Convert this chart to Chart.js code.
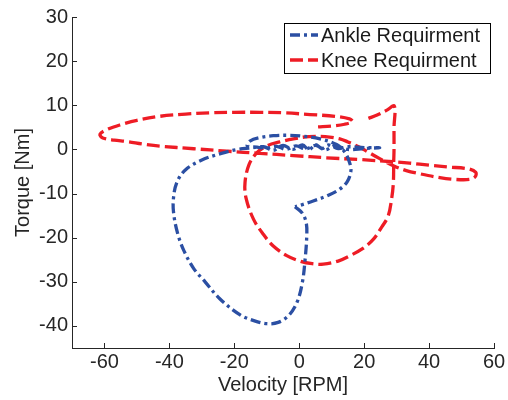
<!DOCTYPE html>
<html>
<head>
<meta charset="utf-8">
<script src="https://cdn.jsdelivr.net/npm/chart.js@4.4.1/dist/chart.umd.min.js"></script>
<style>
  html, body { margin: 0; padding: 0; background: #ffffff; }
  #wrap { width: 508px; height: 400px; }
</style>
</head>
<body>
<div id="wrap"><canvas id="c" width="508" height="400"></canvas></div>
<script>
// ---- data ----
const seriesNames = ['Ankle Requirment', 'Knee Requirment'];

const ankleVelocity = [-1.3, 1.0, 2.2, 2.3, 1.8, 1.0, -0.6, -3.2, -6.5, -10, -14, -18.2, -24.4, -29, -32.5, -35.5, -37.4, -38.6, -38.8, -37.7, -35, -30, -24, -19,
  -15, -11, -8, -5, -2, 1, 3, 5, 7, 9, 12, 15, 20, 24.8,
  20, 15, 11, 8, 5, 2, -1, -4, -7, -10, -13, -16,
  -15.2, -12, -8, -3, 1, 6.4, 11.5, 14.1, 15.6, 15.9, 14.8, 12.5, 9, 4.3, 1.0, -1.3];
const ankleTorque = [-13.0, -14.5, -16.8, -20, -25, -30, -34.5, -37.6, -39.2, -39.5, -38.8, -37.5, -33.9, -30, -27, -23, -19.2, -15, -11.5, -7.5, -4.6, -2.4, -0.9, 0.0,
  0.3, 0.6, -0.2, 0.9, 0.0, 1.0, -0.1, 1.1, 0.2, 1.0, 0.2, 0.6, 0.4, 0.4,
  0.2, 0.0, 0.8, -0.1, 0.9, 0.1, 0.8, 0.0, 0.7, 0.3, 0.5, 0.8,
  1.9, 2.7, 3.1, 3.2, 3.0, 2.4, 1.1, -0.7, -3.2, -5.0, -7.3, -9.0, -10.4, -11.7, -12.5, -13.0];

const kneeVelocity = [5.8, 10, 14, 16.4, 15.5, 11, 3.3, -5, -12.1, -20, -27.5, -35, -42.9, -50, -55, -59.5, -61.4, -60.5, -57, -53.1, -48, -42.9,
  -32.5, -22.3, -12.1, -1.8, 8.4, 18.6, 29, 34, 40.2, 46, 52, 54.4, 54.2, 52.5, 48, 43.3, 37, 33, 29, 24.8, 21, 18.6, 15, 12.5, 8, 3, -1.8, -6, -10,
  -13.1, -15.5, -16.7, -16.4, -14.1, -11, -8, -4, 0.2, 4, 7.4, 12, 15.6, 19.5, 22.8, 25.5, 27.4, 28.5, 29, 29.1, 29.2, 29.2, 29.3, 27, 24, 21.2];
const kneeTorque = [5.1, 5.3, 5.7, 6.3, 6.9, 7.5, 7.9, 8.3, 8.4, 8.4, 8.3, 8.0, 7.5, 6.6, 5.6, 4.4, 3.4, 2.6, 2.1, 1.8, 1.2, 0.75,
  0.15, -0.4, -0.9, -1.4, -1.9, -2.3, -2.8, -3.1, -3.6, -4.0, -4.4, -5.2, -6.2, -6.8, -6.8, -6.4, -5.5, -4.8, -3.7, -2.1, -0.5, 0.5, 1.7, 2.4, 2.9, 2.9, 2.4, 1.7, 0.8,
  -0.8, -3.5, -7.5, -11, -15.8, -19.3, -21.9, -24, -25.3, -25.9, -26, -25.3, -24.1, -22.5, -20.4, -17.5, -15.1, -11, -7.5, -3, 0, 5, 9.8, 8.9, 7.8, 7.0];

const xTickValues = [-60, -40, -20, 0, 20, 40, 60];
const yTickValues = [-40, -30, -20, -10, 0, 10, 20, 30];
const xRange = [-70, 60];
const yRange = [-45, 30];
const xTitle = 'Velocity [RPM]';
const yTitle = 'Torque [Nm]';

// ---- build ----
const toPoints = (xs, ys) => xs.map((x, i) => ({x: x, y: ys[i]}));
const FONT = "'Liberation Sans', Arial, Helvetica, sans-serif";
const AXIS = '#262626';
const BLUE = '#2b4fa3';
const RED = '#ee1c25';

const inwardTicks = {
  id: 'inwardTicks',
  afterDraw(chart) {
    const ctx = chart.ctx;
    const xs = chart.scales.x, ys = chart.scales.y;
    ctx.save();
    ctx.strokeStyle = AXIS;
    ctx.lineWidth = 1;
    ctx.beginPath();
    xTickValues.forEach(v => {
      const px = Math.round(xs.getPixelForValue(v)) + 0.5;
      ctx.moveTo(px, xs.top); ctx.lineTo(px, xs.top - 5);
    });
    yTickValues.forEach(v => {
      const py = Math.round(ys.getPixelForValue(v)) + 0.5;
      ctx.moveTo(ys.right, py); ctx.lineTo(ys.right + 5, py);
    });
    ctx.stroke();
    ctx.restore();
  }
};

const boxLegend = {
  id: 'boxLegend',
  afterDraw(chart) {
    const ctx = chart.ctx;
    const area = chart.chartArea;
    const w = 206, h = 50;
    const x0 = area.right - 210, y0 = area.top + 6;
    ctx.save();
    ctx.fillStyle = '#ffffff';
    ctx.fillRect(x0, y0, w, h);
    ctx.strokeStyle = '#000000';
    ctx.lineWidth = 1;
    ctx.setLineDash([]);
    ctx.strokeRect(x0 + 0.5, y0 + 0.5, w, h);
    chart.data.datasets.forEach((ds, i) => {
      const yy = y0 + 12 + i * 25;
      ctx.beginPath();
      ctx.strokeStyle = ds.borderColor;
      ctx.lineWidth = ds.borderWidth;
      ctx.setLineDash(ds.borderDash);
      ctx.moveTo(x0 + 6, yy); ctx.lineTo(x0 + 34, yy);
      ctx.stroke();
      ctx.setLineDash([]);
      ctx.fillStyle = '#1a1a1a';
      ctx.font = '20px ' + FONT;
      ctx.textBaseline = 'middle';
      ctx.textAlign = 'left';
      ctx.fillText(ds.label, x0 + 37, yy + 1);
    });
    ctx.restore();
  }
};

new Chart(document.getElementById('c'), {
  type: 'scatter',
  data: {
    datasets: [
      {
        label: seriesNames[0],
        data: toPoints(ankleVelocity, ankleTorque),
        showLine: true, pointRadius: 0, pointHoverRadius: 0,
        borderColor: BLUE, backgroundColor: BLUE,
        borderWidth: 3.3, borderDash: [10, 4, 3, 4], tension: 0.35,
        borderCapStyle: 'butt'
      },
      {
        label: seriesNames[1],
        data: toPoints(kneeVelocity, kneeTorque),
        showLine: true, pointRadius: 0, pointHoverRadius: 0,
        borderColor: RED, backgroundColor: RED,
        borderWidth: 3.3, borderDash: [13, 5], tension: 0.35,
        borderCapStyle: 'butt'
      }
    ]
  },
  options: {
    responsive: false,
    animation: false,
    devicePixelRatio: 1,
    layout: { padding: { top: 17, right: 14, left: 0, bottom: 0 } },
    plugins: { legend: { display: false }, tooltip: { enabled: false } },
    scales: {
      x: {
        type: 'linear', min: xRange[0], max: xRange[1],
        afterBuildTicks: s => { s.ticks = xTickValues.map(v => ({value: v})); },
        afterFit: s => { s.height = 52; },
        grid: { display: true, drawOnChartArea: false, drawTicks: false },
        border: { display: true, color: AXIS, width: 1 },
        ticks: { color: AXIS, font: { family: FONT, size: 20 }, padding: 2, maxRotation: 0, autoSkip: false },
        title: { display: true, text: xTitle, color: AXIS, font: { family: FONT, size: 20 }, padding: { top: 0, bottom: 3 } }
      },
      y: {
        type: 'linear', min: yRange[0], max: yRange[1],
        afterBuildTicks: s => { s.ticks = yTickValues.map(v => ({value: v})); },
        afterFit: s => { s.width = 72; },
        grid: { display: true, drawOnChartArea: false, drawTicks: false },
        border: { display: true, color: AXIS, width: 1 },
        ticks: { color: AXIS, font: { family: FONT, size: 20 }, padding: 4, autoSkip: false },
        title: { display: true, text: yTitle, color: AXIS, font: { family: FONT, size: 20 }, padding: { top: 11, bottom: 0 } }
      }
    }
  },
  plugins: [inwardTicks, boxLegend]
});
</script>
</body>
</html>
